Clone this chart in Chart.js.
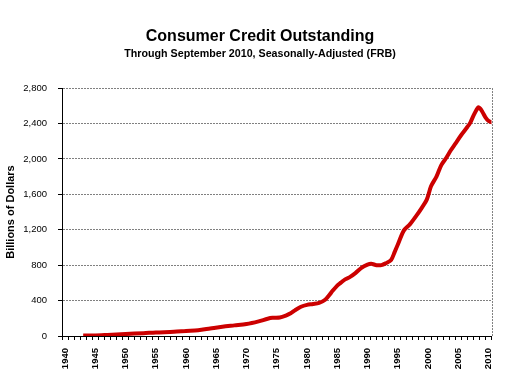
<!DOCTYPE html>
<html>
<head>
<meta charset="utf-8">
<script src="https://cdn.jsdelivr.net/npm/chart.js@4"></script>
<style>
  html, body { margin: 0; padding: 0; background: #fff; }
  #wrap { width: 508px; height: 381px; }
</style>
</head>
<body>
<div id="wrap"><canvas id="c" width="508" height="381"></canvas></div>
<script>
// Decimal year positions and values (billions of dollars)
const years = [1943.0, 1945, 1947, 1950, 1953, 1955, 1958, 1960, 1962, 1964, 1966, 1968, 1970, 1972, 1973.5, 1974.3, 1975.5, 1976.5, 1977.3, 1978, 1979, 1980, 1981, 1982, 1983, 1984, 1985, 1985.6, 1986.3, 1987, 1988, 1989, 1990, 1990.6, 1991.5, 1992.3, 1993, 1993.9, 1994.5, 1995, 1996, 1997, 1998, 1999, 1999.8, 2000.5, 2001.4, 2002.2, 2003, 2003.8, 2004.5, 2005.5, 2006.5, 2007, 2007.6, 2008.3, 2008.6, 2009, 2009.5, 2010, 2010.7];
const credit = [5, 6, 12, 22, 32, 40, 48, 57, 65, 85, 105, 120, 135, 165, 195, 205, 208, 230, 256, 290, 330, 352, 362, 375, 410, 490, 570, 602, 640, 662, 710, 770, 805, 815, 800, 800, 820, 858, 950, 1030, 1190, 1260, 1350, 1450, 1540, 1690, 1800, 1930, 2010, 2100, 2170, 2270, 2360, 2410, 2500, 2582, 2570, 2530, 2470, 2430, 2410];
const yearLabels = [];
for (let y = 1940; y <= 2010; y++) yearLabels.push(String(y));
const yTicks = [0, 400, 800, 1200, 1600, 2000, 2400, 2800];

const FONT = "'Liberation Sans', Arial, sans-serif";

const framePlugin = {
  id: 'frame',
  afterDatasetsDraw(chart) {
    const {ctx, chartArea: a} = chart;
    ctx.save();
    ctx.strokeStyle = '#808080';
    ctx.lineWidth = 1;
    ctx.setLineDash([2, 1]);
    ctx.beginPath();
    ctx.moveTo(Math.round(a.right) + 0.5, a.top);
    ctx.lineTo(Math.round(a.right) + 0.5, a.bottom);
    ctx.stroke();
    ctx.restore();
  }
};

new Chart(document.getElementById('c'), {
  type: 'line',
  data: {
    datasets: [{
      data: years.map((x, i) => ({x: x, y: credit[i]})),
      xAxisID: 'x',
      yAxisID: 'y',
      borderColor: '#CC0000',
      borderWidth: 4,
      pointRadius: 0,
      tension: 0.3,
      fill: false
    }]
  },
  options: {
    responsive: false,
    animation: false,
    layout: { padding: { left: 12, right: 0, top: 0, bottom: 0 } },
    plugins: {
      legend: { display: false },
      tooltip: { enabled: false },
      title: {
        display: true,
        text: 'Consumer Credit Outstanding',
        color: '#000',
        font: { family: FONT, size: 16, weight: 'bold' },
        padding: { top: 27, bottom: 0 }
      },
      subtitle: {
        display: true,
        text: 'Through September 2010, Seasonally-Adjusted (FRB)',
        color: '#000',
        font: { family: FONT, size: 10.7, weight: 'bold' },
        padding: { top: 1, bottom: 28 }
      }
    },
    scales: {
      x: {
        type: 'linear',
        display: false,
        min: 1939.5,
        max: 2010.5
      },
      x2: {
        type: 'category',
        labels: yearLabels,
        position: 'bottom',
        offset: true,
        afterFit: s => { s.height = 45; },
        grid: {
          offset: true,
          drawOnChartArea: false,
          drawTicks: true,
          tickLength: 4,
          tickColor: '#000'
        },
        border: { display: true, color: '#000', width: 1 },
        ticks: {
          autoSkip: false,
          maxRotation: 90,
          minRotation: 90,
          padding: 8,
          color: '#000',
          font: { family: FONT, size: 9.5, weight: 'bold' },
          callback: function(v, i) {
            const lab = yearLabels[i];
            return (Number(lab) % 5 === 0) ? lab : '';
          }
        }
      },
      y: {
        type: 'linear',
        min: 0,
        max: 2800,
        afterFit: s => { s.width = 50; },
        afterBuildTicks: s => { s.ticks = yTicks.map(v => ({value: v})); },
        grid: {
          color: '#808080',
          lineWidth: 1,
          drawTicks: true,
          tickLength: 4,
          tickColor: '#000'
        },
        border: { display: true, color: '#000', width: 1, dash: [2, 1] },
        ticks: {
          color: '#000',
          padding: 11,
          font: { family: FONT, size: 9.5 },
          callback: v => v.toLocaleString('en-US')
        },
        title: {
          display: true,
          text: 'Billions of Dollars',
          color: '#000',
          font: { family: FONT, size: 11, weight: 'bold' },
          padding: { top: -7.6, bottom: 0 }
        }
      },
      yR: {
        type: 'linear',
        position: 'right',
        display: true,
        afterFit: s => { s.width = 13; },
        grid: { display: false, drawTicks: false },
        border: { display: false },
        ticks: { display: false }
      }
    }
  },
  plugins: [framePlugin]
});
</script>
</body>
</html>
